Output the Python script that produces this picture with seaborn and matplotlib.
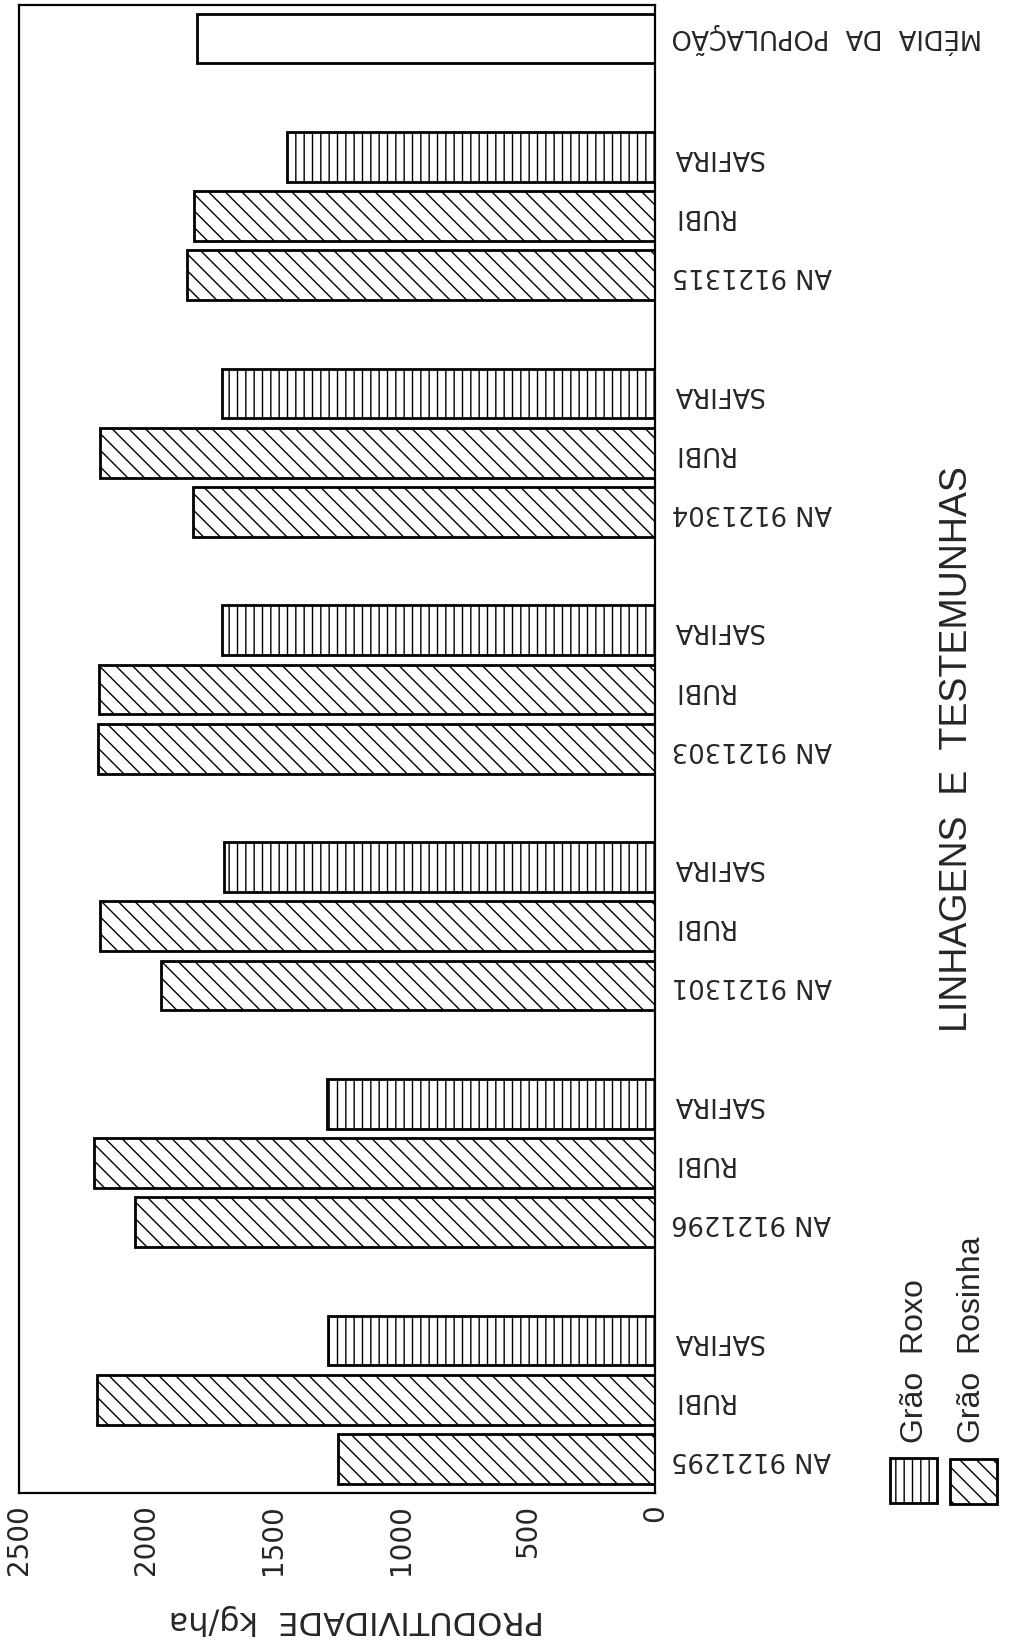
import numpy as np
import pandas as pd
import matplotlib
matplotlib.use("Agg")
import matplotlib.pyplot as plt
from matplotlib.patches import Rectangle
import seaborn as sns

# Productivity (kg/ha) of each line and its two check cultivars
linhagens = ["AN 9121295", "AN 9121296", "AN 9121301", "AN 9121303", "AN 9121304", "AN 9121315"]
linhagem_vals = [1245, 2045, 1940, 2190, 1815, 1840]
rubi_vals = [2195, 2205, 2180, 2185, 2180, 1810]
safira_vals = [1285, 1290, 1695, 1700, 1700, 1445]
media_label = "MÉDIA  DA  POPULAÇÃO"
media_val = 1800

value_ticks = [0, 500, 1000, 1500, 2000, 2500]

# Assemble the long table: three bars per group, a gap, then the population mean
rows = []
for g, name in enumerate(linhagens):
    rows.append((4 * g + 0, name, linhagem_vals[g], "rosinha"))
    rows.append((4 * g + 1, "RUBI", rubi_vals[g], "rosinha"))
    rows.append((4 * g + 2, "SAFIRA", safira_vals[g], "roxo"))
rows.append((4 * len(linhagens), media_label, media_val, "media"))
df = pd.DataFrame(rows, columns=["pos", "nome", "valor", "grao"])

sns.set_style("white")
plt.rcParams["hatch.linewidth"] = 1.0
plt.rcParams["font.family"] = ["DejaVu Sans"]

fig = plt.figure(figsize=(10.09, 16.5), dpi=100)
ax = fig.add_axes([0.0188, 0.0952, 0.6303, 0.9018])

sns.barplot(data=df, x="valor", y="pos", orient="h", native_scale=True,
            color="white", edgecolor="black", linewidth=2.0, width=0.84,
            saturation=1, ax=ax)

hatch_for = {"rosinha": "\\\\", "roxo": "||", "media": ""}
kind_at = dict(zip(df["pos"], df["grao"]))
for p in ax.patches:
    yc = int(round(p.get_y() + p.get_height() / 2))
    p.set_hatch(hatch_for[kind_at[yc]])
    p.set_facecolor("white")
    p.set_edgecolor("black")

ax.set_xlim(2500, 0)
ax.set_ylim(-0.574, 24.566)

ax.set_xticks(value_ticks)
ax.set_xticklabels([str(v) for v in value_ticks], rotation=90, fontsize=20)
ax.tick_params(axis="x", length=0, pad=8)

ax.yaxis.tick_right()
ax.set_yticks(df["pos"])
ax.set_yticklabels(df["nome"], rotation=180, fontsize=18.5)
ax.tick_params(axis="y", length=0, pad=12)
for t in ax.get_yticklabels():
    t.set_horizontalalignment("left")
    t.set_verticalalignment("center")

for s in ax.spines.values():
    s.set_visible(True)
    s.set_linewidth(1.6)
    s.set_color("black")

ax.set_xlabel("PRODUTIVIDADE  kg/ha", fontsize=23, rotation=180,
              ha="center", va="center", rotation_mode="anchor")
ax.xaxis.set_label_coords(0.531, -0.0853)

ax.yaxis.set_label_position("right")
ax.set_ylabel("LINHAGENS  E  TESTEMUNHAS", fontsize=27, rotation=90,
              family="Liberation Sans", ha="center", va="center",
              rotation_mode="anchor")
ax.yaxis.set_label_coords(1.4748, 0.5)

# Legend drawn as rotated keys below the category labels
W, H = 1009.0, 1650.0
legend_items = [("Grão  Roxo", "||", 890, 1458, 915), ("Grão  Rosinha", "\\\\", 950, 1459, 972)]
for text, hatch, x0, y0, xt in legend_items:
    fig.add_artist(Rectangle((x0 / W, 1 - (y0 + 45) / H), 47 / W, 45 / H,
                             transform=fig.transFigure, facecolor="white",
                             edgecolor="black", linewidth=2.0, hatch=hatch))
    fig.text(xt / W, 1 - 1443 / H, text, rotation=90, ha="center", va="bottom",
             fontsize=23, family="Liberation Sans")

fig.savefig("out.png", dpi=100, facecolor="white")
